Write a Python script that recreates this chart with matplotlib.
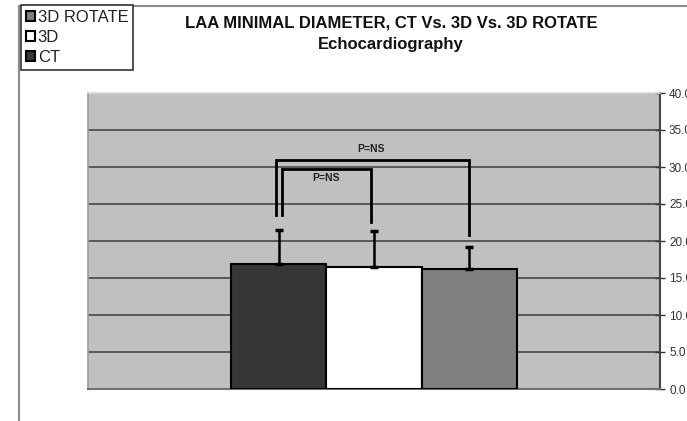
import matplotlib
matplotlib.use("Agg")
import matplotlib.pyplot as plt
from matplotlib.patches import Patch
from matplotlib.lines import Line2D

plt.rcParams['font.family'] = ['Liberation Sans', 'DejaVu Sans']

categories = ["CT", "3D", "3D ROTATE"]
means = [16.9, 16.5, 16.2]
err_upper = [4.6, 4.9, 3.0]
colors = ["#363636", "#ffffff", "#808080"]
yticks = [0, 5, 10, 15, 20, 25, 30, 35, 40]

# significance brackets: (x_left, x_right, y_top, y_left_bottom, y_right_bottom, label, label_x, label_y)
brackets = [
    (-0.03, 2.0, 30.9, 23.5, 20.8, "P=NS", 0.97, 32.4),
    (0.03, 0.97, 29.7, 23.5, 22.6, "P=NS", 0.5, 28.5),
]

W, H = 687, 421
fig = plt.figure(figsize=(W / 100, H / 100), dpi=100)
fig.patch.set_facecolor("white")

# outer chart-area border (left and top)
fig.add_artist(Line2D([19 / W, 19 / W], [0, 1 - 6 / H], transform=fig.transFigure,
                      color="#8a8a8a", lw=1.5))
fig.add_artist(Line2D([19 / W, 1], [1 - 6 / H, 1 - 6 / H], transform=fig.transFigure,
                      color="#8a8a8a", lw=1.5))

ax = fig.add_axes([88 / W, (H - 389) / H, (660 - 88) / W, (389 - 93) / H])
ax.set_facecolor("#c0c0c0")
ax.set_xlim(-2.0, 4.0)
ax.set_ylim(0, 40)

for y in yticks[1:-1]:
    ax.axhline(y, color="#505050", lw=1.3, zorder=1)

x = list(range(len(categories)))
ax.bar(x, means, width=1.0, color=colors, edgecolor="black", linewidth=1.5, zorder=3)
ax.errorbar(x, means, yerr=[[0] * len(means), err_upper], fmt="none", ecolor="black",
            elinewidth=1.8, capsize=3, capthick=2.5, zorder=4)

for (xl, xr, yt, ybl, ybr, lab, lx, ly) in brackets:
    ax.plot([xl, xl, xr, xr], [ybl, yt, yt, ybr], color="black", lw=2, zorder=5,
            solid_joinstyle="miter")
    ax.text(lx, ly, lab, ha="center", va="center", fontsize=7.5, fontweight="bold",
            color="#222222", zorder=6)

ax.yaxis.tick_right()
ax.set_yticks(yticks)
ax.set_yticklabels([f"{v:.1f}" for v in yticks])
ax.tick_params(axis="y", direction="inout", length=7, width=1, colors="#333333",
               labelsize=8.5, pad=3)
ax.set_xticks([])
ax.spines["left"].set_color("#9a9a9a")
ax.spines["left"].set_linewidth(1.2)
ax.spines["top"].set_color("#d8d8d8")
ax.spines["top"].set_linewidth(1.2)
ax.spines["bottom"].set_color("#707070")
ax.spines["bottom"].set_linewidth(1.5)
ax.spines["right"].set_color("#444444")
ax.spines["right"].set_linewidth(1.5)

fig.text(391 / W, 1 - 23 / H, "LAA MINIMAL DIAMETER, CT Vs. 3D Vs. 3D ROTATE",
         ha="center", va="center", fontsize=12, fontweight="bold", color="#111111")
fig.text(391 / W, 1 - 44 / H, "Echocardiography",
         ha="center", va="center", fontsize=12, fontweight="bold", color="#111111")

handles = [Patch(facecolor=colors[i], edgecolor="black", linewidth=1.5) for i in [2, 1, 0]]
labels = [categories[i] for i in [2, 1, 0]]
leg = fig.legend(handles, labels, loc="upper left", bbox_to_anchor=(21 / W, 1 - 5 / H),
                 fontsize=12, handlelength=0.55, handleheight=0.55, handletextpad=0.15,
                 borderpad=0.3, labelspacing=0.3, borderaxespad=0, fancybox=False,
                 edgecolor="#333333", framealpha=1)
leg.get_frame().set_linewidth(1.2)
for t in leg.get_texts():
    t.set_color("#222222")

fig.savefig("out.png", dpi=100)
